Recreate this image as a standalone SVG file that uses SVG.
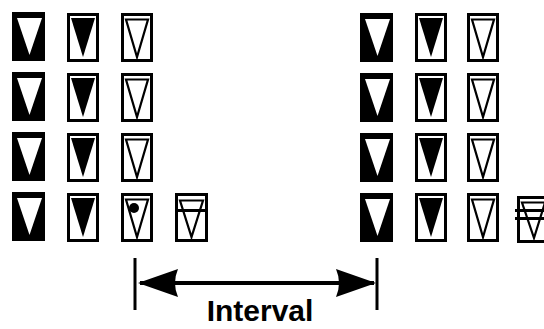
<svg xmlns="http://www.w3.org/2000/svg" width="544" height="329" viewBox="0 0 544 329">
<style>
.frame{fill:#fff;stroke:#000;stroke-width:3}
.tri-open{fill:none;stroke:#000;stroke-width:2.2;stroke-linejoin:miter}
.bar{stroke:#000;stroke-width:3}
.lbl{font-family:"Liberation Sans",Arial,sans-serif;font-weight:bold;font-size:30px;fill:#000}
</style>
<defs>
<symbol id="A" overflow="visible">
<rect x="0" y="0" width="33" height="49" fill="#000"/>
<polygon points="5,6 30,6 17.5,43" fill="#fff"/>
</symbol>
<symbol id="B" overflow="visible">
<rect class="frame" x="1.5" y="1.5" width="29" height="46"/>
<polygon points="4,5 28,5 16,44" fill="#000"/>
</symbol>
<symbol id="C" overflow="visible">
<rect class="frame" x="1.5" y="1.5" width="29" height="46"/>
<polygon class="tri-open" points="5,6.5 27,6.5 16,44"/>
</symbol>
<marker id="ah" viewBox="0 0 40 30" refX="38" refY="15" markerWidth="40" markerHeight="30" markerUnits="userSpaceOnUse" orient="auto-start-reverse">
<path d="M0,1 L40,15 L0,29 Q6,15 0,1 Z" fill="#000"/>
</marker>
</defs>
<rect width="544" height="329" fill="#fff"/>

<g id="left-r1"><use href="#A" x="12" y="12"/><use href="#B" x="67" y="13"/><use href="#C" x="121" y="13"/></g>
<g id="left-r2"><use href="#A" x="12" y="72"/><use href="#B" x="67" y="73"/><use href="#C" x="121" y="73"/></g>
<g id="left-r3"><use href="#A" x="12" y="132"/><use href="#B" x="67" y="133"/><use href="#C" x="121" y="133"/></g>
<g id="left-r4">
<use href="#A" x="12" y="192"/><use href="#B" x="67" y="193"/><use href="#C" x="121" y="193"/>
<circle cx="134" cy="208" r="5" fill="#000"/>
</g>
<g id="left-d">
<rect class="frame" x="176.5" y="194.5" width="30" height="46"/>
<polygon class="tri-open" points="180,200.5 203,200.5 191.5,237"/>
<line class="bar" x1="176" y1="210.5" x2="208" y2="210.5"/>
</g>

<g id="right-r1"><use href="#A" x="360" y="13"/><use href="#B" x="415" y="13"/><use href="#C" x="467" y="13"/></g>
<g id="right-r2"><use href="#A" x="360" y="73"/><use href="#B" x="415" y="73"/><use href="#C" x="467" y="73"/></g>
<g id="right-r3"><use href="#A" x="360" y="133"/><use href="#B" x="415" y="133"/><use href="#C" x="467" y="133"/></g>
<g id="right-r4"><use href="#A" x="360" y="193"/><use href="#B" x="415" y="193"/><use href="#C" x="467" y="193"/></g>
<g id="right-d">
<rect class="frame" x="518.5" y="197.5" width="30" height="44"/>
<polygon class="tri-open" points="522,202.5 545,202.5 534,238"/>
<line class="bar" x1="515" y1="210.5" x2="544" y2="210.5"/>
<line class="bar" x1="515" y1="218.5" x2="544" y2="218.5"/>
</g>

<g id="connectors">
<line class="bar" x1="135" y1="258" x2="135" y2="310"/>
<line class="bar" x1="377" y1="258" x2="377" y2="310"/>
<line x1="140" y1="283" x2="374" y2="283" stroke="#000" stroke-width="4" marker-start="url(#ah)" marker-end="url(#ah)"/>
</g>
<g id="label"><text class="lbl" x="260" y="321" text-anchor="middle">Interval</text></g>
</svg>
